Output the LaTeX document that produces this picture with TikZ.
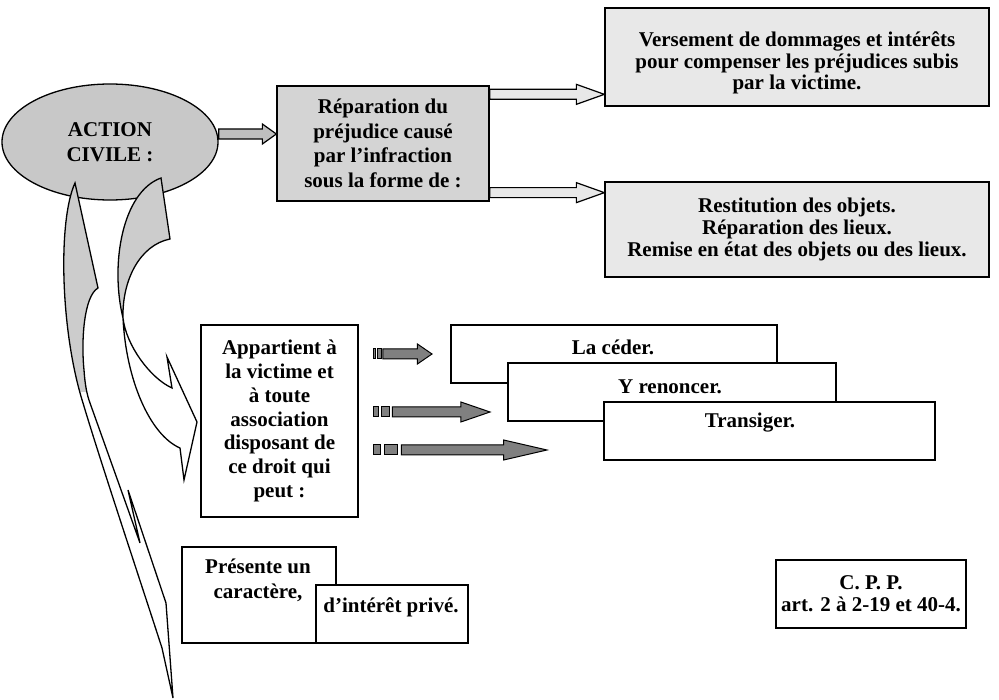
\documentclass[tikz,border=0pt]{standalone}
\usepackage{fontspec}
\setmainfont{Liberation Serif}
\usetikzlibrary{positioning,shapes.geometric,calc}

\definecolor{civgray}{HTML}{C8C8C8}
\definecolor{repgray}{HTML}{D4D4D4}
\definecolor{palegray}{HTML}{E8E8E8}
\definecolor{bandgray}{HTML}{CCCCCC}
\definecolor{arrgray}{HTML}{BEBEBE}
\definecolor{stripegray}{HTML}{808080}

% block arrow: style, start, end, head length
\newcommand\blockarr[4]{%
  \path (#2) coordinate (s) (s -| #3) coordinate (t);
  \draw[#1] ($(s)+(0,-5)$) -- ($(t)+(-#4,-5)$) -- ($(t)+(-#4,-10)$) -- (t)
    -- ($(t)+(-#4,10)$) -- ($(t)+(-#4,5)$) -- ($(s)+(0,5)$) -- cycle;}
% striped arrow: start, end
\newcommand\stripedarr[2]{%
  \path (#1) coordinate (s) (s -| #2) coordinate (t);
  \draw[stripe] ($(s)+(0,-5)$) rectangle ($(s)!.04!(t)+(0,5)$);
  \draw[stripe] ($(s)!.065!(t)+(0,-5)$) rectangle ($(s)!.135!(t)+(0,5)$);
  \draw[stripe] ($(s)!.16!(t)+(0,-5)$) -- ($(s)!.75!(t)+(0,-5)$) -- ($(s)!.75!(t)+(0,-10)$) -- (t)
    -- ($(s)!.75!(t)+(0,10)$) -- ($(s)!.75!(t)+(0,5)$) -- ($(s)!.16!(t)+(0,5)$) -- cycle;}

% curved band arrows
\newcommand\bandB{(75,183) -- (98,288) .. controls (84,296) and (81,340) .. (84,370)
  .. controls (85,385) and (87,395) .. (90,403) -- (140,543) -- (128,490) -- (166,603)
  -- (173,698) -- (162,648) .. controls (140,580) and (100,460) .. (83,403)
  .. controls (60,330) and (58,220) .. (75,183) -- cycle}
\newcommand\bandAtop{(161,178) .. controls (122,192) and (110,265) .. (123,318)
  .. controls (122,280) and (140,245) .. (170,239) -- cycle}
\newcommand\bandAhead{(123,318) .. controls (126,345) and (150,378) .. (172,388)
  -- (167,357) -- (197,422) -- (184,480) -- (180,448)
  .. controls (150,435) and (126,380) .. (123,318) -- cycle}

\tikzset{
  every node/.style={font=\fontsize{21}{21.7}\selectfont\bfseries},
  box/.style={draw, line width=1.3pt, inner sep=0pt, align=center},
  txt/.style={inner sep=0pt, align=center},
  stripe/.style={draw, line width=1pt, fill=stripegray},
}

\begin{document}
\begin{tikzpicture}[x=1pt, y=-1pt]
    \useasboundingbox (0,0) rectangle (999,700);

    \node[box, ellipse, fill=civgray, minimum width=216pt, minimum height=116pt] (civ) at (110,142) {ACTION\\[3pt]CIVILE :};
    \node[box, fill=repgray, minimum width=212pt, minimum height=115pt] (rep) at (383,143.5)
        {Réparation du\\[2.8pt]préjudice causé\\[2.8pt]par l’infraction\\[2.8pt]sous la forme de :};
    \node[box, fill=palegray, minimum width=384pt, minimum height=98pt] (vers) at (797,57) {};
    \node[txt] (verstxt) at (797,63) {Versement de dommages et intérêts\\pour compenser les préjudices subis\\par la victime.};
    \node[box, fill=palegray, minimum width=384pt, minimum height=95pt] (rest) at (797,229.5)
        {Restitution des objets.\\Réparation des lieux.\\Remise en état des objets ou des lieux.};

    \blockarr{fill=arrgray, line width=1.2pt}{$(civ.east)+(0,-8)$}{rep.west}{14}
    \blockarr{fill=palegray, line width=1.2pt}{$(rep.north east)+(0,9)$}{vers.west}{28}
    \blockarr{fill=palegray, line width=1.2pt}{$(rep.south east)+(0,-9)$}{rest.west}{28}

    % curved arrows out of the ellipse
    \begin{scope}
        \clip (0,0) rectangle (999,392);
        \fill[bandgray] \bandB;
    \end{scope}
    \draw[line width=1.3pt] \bandB;
    \fill[bandgray] \bandAtop;
    \fill[white] \bandAhead;
    \draw[line width=1.3pt] \bandAtop \bandAhead;

    \node[box, minimum width=157pt, minimum height=192pt] (app) at (279.5,421)
        {Appartient à\\[2pt]la victime et\\[2pt]à toute\\[2pt]association\\[2pt]disposant de\\[2pt]ce droit qui\\[2pt]peut :};

    \node[box, fill=white, minimum width=326pt, minimum height=58pt] (lac) at (614,354) {};
    \node[txt] (lactxt) at (613,347) {La céder.};
    \node[box, fill=white, minimum width=328pt, minimum height=58pt] (ren) at (672,392) {};
    \node[txt] (rentxt) at (670,387) {Y renoncer.};
    \node[box, fill=white, minimum width=331pt, minimum height=58pt] (tra) at (769.5,431) {};
    \node[txt] (tratxt) at (750,423) {Transiger.};

    \coordinate (t1) at (432,354);
    \coordinate (t2) at (490,412);
    \coordinate (t3) at (547,450);
    \stripedarr{$(app.east |- t1)+(15,0)$}{t1}
    \stripedarr{$(app.east |- t2)+(15,0)$}{t2}
    \stripedarr{$(app.east |- t3)+(15,0)$}{t3}

    \node[box, minimum width=190pt, minimum height=68pt] (cpp) at (871,594) {C. P. P.\\art. 2 à 2-19 et 40-4.};

    \node[box, fill=white, minimum width=154pt, minimum height=96pt] (pres) at (259,595) {};
    \node[txt] (prestxt) at (258,580.5) {Présente un\\[3pt]caractère,};
    \node[box, fill=white, minimum width=152pt, minimum height=58pt] (dint) at (392,614) {};
    \node[txt] (dinttxt) at (391,607) {d’intérêt privé.};
\end{tikzpicture}
\end{document}
